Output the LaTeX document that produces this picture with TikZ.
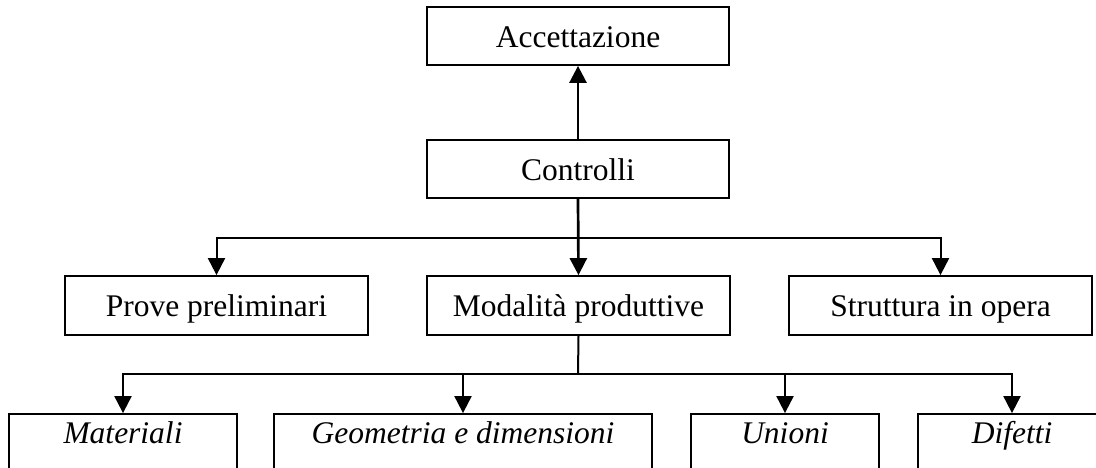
\documentclass[tikz,border=0pt]{standalone}
\usepackage{fontspec}
\setmainfont{Liberation Serif}
\usetikzlibrary{arrows.meta}
\begin{document}
\begin{tikzpicture}[x=1pt,y=-1pt,
  box/.style={draw,line width=1.8pt,rectangle,inner sep=0pt,minimum height=58pt,
    text height=22pt,text depth=0pt,
    font=\fontsize{31.5}{38}\selectfont},
  ibox/.style={box,text height=14pt,text depth=14pt,font=\fontsize{31.5}{38}\selectfont\itshape},
  arr/.style={line width=2pt,-{Triangle[width=17pt,length=17pt]}},
  mainarr/.style={line width=2.7pt,-{Triangle[width=17pt,length=17pt]}},
  link/.style={line width=2pt}]
\useasboundingbox (0,0) rectangle (1096,467);
\clip (0,0) rectangle (1096,467);
\node[box,minimum width=302pt] (acc) at (578,36) {Accettazione};
\node[box,minimum width=302pt] (con) at (578,169) {Controlli};
\node[box,minimum width=303pt,minimum height=59pt] (pro) at (216.5,305.5) {Prove preliminari};
\node[box,minimum width=303pt,minimum height=59pt] (mod) at (578.5,305.5) {Modalità produttive};
\node[box,minimum width=303pt,minimum height=59pt] (str) at (940.5,305.5) {Struttura in opera};
\node[ibox,minimum width=228pt] (mat) at (123,443) {Materiali};
\node[ibox,minimum width=378pt] (geo) at (463,443) {Geometria e dimensioni};
\node[ibox,minimum width=188pt] (uni) at (785,443) {Unioni};
\node[ibox,minimum width=188pt] (dif) at (1012,443) {Difetti};
\coordinate (jA) at (578,238);
\coordinate (jB) at (578,374);
\draw[mainarr] (con.north) -- (acc.south);
\draw[mainarr] (con.south) -- (mod.north);
\draw[arr] (jA) -| (pro.north);
\draw[arr] (jA) -| (str.north);
\draw[link] (mod.south) -- (jB);
\draw[arr] (jB) -| (mat.north);
\draw[arr] (jB) -| (geo.north);
\draw[arr] (jB) -| (uni.north);
\draw[arr] (jB) -| (dif.north);
\end{tikzpicture}
\end{document}
